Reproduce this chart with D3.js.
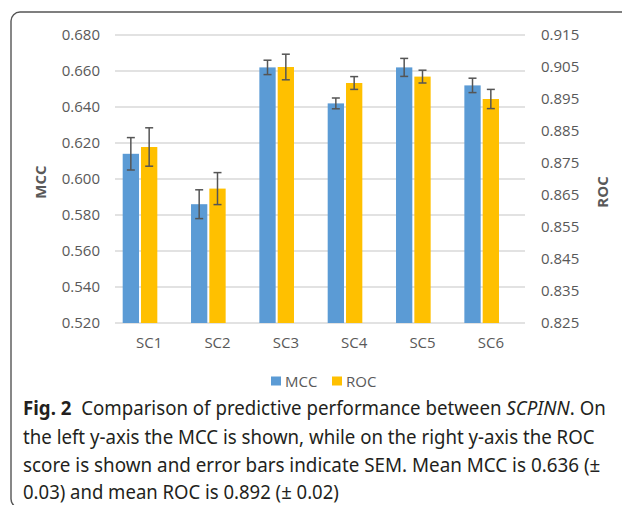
<!DOCTYPE html>
<html>
<head>
<meta charset="utf-8">
<script src="https://cdn.jsdelivr.net/npm/d3@7"></script>
<style>
    body { margin: 0; background: #fff; }
    svg { display: block; }
</style>
</head>
<body>
<svg id="chart" width="622" height="505"></svg>
<script>

const categories = ["SC1", "SC2", "SC3", "SC4", "SC5", "SC6"];
const series = ["MCC", "ROC"];

const mccValues = [0.614, 0.586, 0.662, 0.642, 0.662, 0.652];
const mccErrors = [0.009, 0.008, 0.004, 0.003, 0.005, 0.004];
const rocValues = [0.880, 0.867, 0.905, 0.900, 0.902, 0.895];
const rocErrors = [0.006, 0.005, 0.004, 0.002, 0.002, 0.003];

const mccTicks = [0.52, 0.54, 0.56, 0.58, 0.60, 0.62, 0.64, 0.66, 0.68];
const rocTicks = [0.825, 0.835, 0.845, 0.855, 0.865, 0.875, 0.885, 0.895, 0.905, 0.915];

const captionLines = [
    [["Fig. 2", "bold"], ["  Comparison of predictive performance between ", ""], ["SCPINN", "italic"], [". On", ""]],
    [["the left y-axis the MCC is shown, while on the right y-axis the ROC", ""]],
    [["score is shown and error bars indicate SEM. Mean MCC is 0.636 (\u00B1", ""]],
    [["0.03) and mean ROC is 0.892 (\u00B1 0.02)", ""]]
];


const svg = d3.select("#chart");

const plotLeft = 115,
    plotRight = 525,
    plotTop = 35,
    plotBottom = 323;

const colors = { MCC: "#5b9bd5", ROC: "#ffc000" };
const textGrey = "#595959";
const chartFont = "'Open Sans', 'DejaVu Sans', sans-serif";

// frame round the figure (runs off the right and bottom edge)
svg.append("rect")
    .attr("x", 11)
    .attr("y", 12)
    .attr("width", 700)
    .attr("height", 496)
    .attr("rx", 9)
    .attr("fill", "none")
    .attr("stroke", "#555")
    .attr("stroke-width", 1.4);

const yLeft = d3.scaleLinear()
    .domain([0.52, 0.68])
    .range([plotBottom, plotTop]);

const yRight = d3.scaleLinear()
    .domain([0.825, 0.915])
    .range([plotBottom, plotTop]);

const x0 = d3.scaleBand()
    .domain(categories)
    .range([plotLeft, plotRight])
    .paddingInner(0.225)
    .paddingOuter(0.1125);

// three slots: Excel leaves an empty third one, so ROC sits on the label
const x1 = d3.scaleBand()
    .domain(series.concat(["blank"]))
    .range([0, x0.bandwidth()])
    .paddingInner(0.11);

// grid lines
svg.append("g")
    .selectAll("line")
    .data(mccTicks)
    .join("line")
        .attr("x1", plotLeft)
        .attr("x2", plotRight)
        .attr("y1", d => yLeft(d))
        .attr("y2", d => yLeft(d))
        .attr("stroke", "#d9d9d9")
        .attr("stroke-width", 1.5);

// left axis
const leftAxis = svg.append("g")
    .attr("transform", "translate(" + plotLeft + ",0)")
    .call(d3.axisLeft(yLeft).tickValues(mccTicks).tickFormat(d3.format(".3f")).tickSize(0).tickPadding(15));

// right axis
const rightAxis = svg.append("g")
    .attr("transform", "translate(" + plotRight + ",0)")
    .call(d3.axisRight(yRight).tickValues(rocTicks).tickFormat(d3.format(".3f")).tickSize(0).tickPadding(16));

[leftAxis, rightAxis].forEach(function (ax) {
    ax.select(".domain").remove();
    ax.selectAll("text")
        .attr("fill", textGrey)
        .attr("font-family", chartFont)
        .attr("font-size", 15);
});

// category labels
svg.append("g")
    .attr("transform", "translate(0," + plotBottom + ")")
    .call(d3.axisBottom(x0).tickSize(0).tickPadding(14))
    .call(g => g.select(".domain").remove())
    .selectAll("text")
        .attr("fill", textGrey)
        .attr("font-family", chartFont)
        .attr("font-size", 15);

// merge the arrays in to one row per bar
const barData = [];
categories.forEach(function (cat, i) {
    barData.push({ cat: cat, key: "MCC", value: mccValues[i], err: mccErrors[i], y: yLeft });
    barData.push({ cat: cat, key: "ROC", value: rocValues[i], err: rocErrors[i], y: yRight });
});

const bars = svg.append("g")
    .selectAll("g")
    .data(barData)
    .join("g")
        .attr("transform", d => "translate(" + (x0(d.cat) + x1(d.key)) + ",0)");

bars.append("rect")
    .attr("x", 0)
    .attr("width", x1.bandwidth())
    .attr("y", d => d.y(d.value))
    .attr("height", d => plotBottom - d.y(d.value))
    .attr("fill", d => colors[d.key]);

// error bars
const capHalf = 4;
const errGroup = bars.append("g")
    .attr("stroke", "#555")
    .attr("stroke-width", 1.5)
    .attr("transform", "translate(" + x1.bandwidth() / 2 + ",0)");

errGroup.append("line")
    .attr("y1", d => d.y(d.value + d.err))
    .attr("y2", d => d.y(d.value - d.err));

errGroup.append("line")
    .attr("x1", -capHalf).attr("x2", capHalf)
    .attr("y1", d => d.y(d.value + d.err))
    .attr("y2", d => d.y(d.value + d.err));

errGroup.append("line")
    .attr("x1", -capHalf).attr("x2", capHalf)
    .attr("y1", d => d.y(d.value - d.err))
    .attr("y2", d => d.y(d.value - d.err));

// axis titles
svg.append("text")
    .attr("transform", "translate(46,182) rotate(-90)")
    .attr("text-anchor", "middle")
    .attr("fill", textGrey)
    .attr("font-family", chartFont)
    .attr("font-weight", "bold")
    .attr("font-size", 15)
    .text("MCC");

svg.append("text")
    .attr("transform", "translate(608,192) rotate(-90)")
    .attr("text-anchor", "middle")
    .attr("fill", textGrey)
    .attr("font-family", chartFont)
    .attr("font-weight", "bold")
    .attr("font-size", 15)
    .text("ROC");

// legend
const legend = svg.append("g")
    .attr("transform", "translate(271,381)");

const legendItem = legend.selectAll("g")
    .data(series)
    .join("g")
        .attr("transform", (d, i) => "translate(" + i * 61 + ",0)");

legendItem.append("rect")
    .attr("x", 0)
    .attr("y", -4.5)
    .attr("width", 10)
    .attr("height", 9)
    .attr("fill", d => colors[d]);

legendItem.append("text")
    .attr("x", 14)
    .attr("y", 5.5)
    .attr("fill", textGrey)
    .attr("font-family", chartFont)
    .attr("font-size", 15)
    .text(d => d);

// caption, each line squeezed to the width it has in the figure
const captionWidths = [583, 572, 578, 316];
const captionY = [415, 444, 472, 499];

captionLines.forEach(function (parts, i) {
    const line = svg.append("text")
        .attr("x", 0)
        .attr("y", 0)
        .attr("fill", "#231f20")
        .attr("font-family", "'Noto Sans', 'Open Sans', sans-serif")
        .attr("font-size", 20)
        .attr("xml:space", "preserve")
        .style("white-space", "pre");

    parts.forEach(function (p) {
        line.append("tspan")
            .attr("font-weight", p[1] === "bold" ? "bold" : null)
            .attr("font-style", p[1] === "italic" ? "italic" : null)
            .text(p[0]);
    });

    const w = line.node().getComputedTextLength();
    line.attr("transform", "translate(23," + captionY[i] + ") scale(" + (captionWidths[i] / w) + ",1)");
});

</script>
</body>
</html>
